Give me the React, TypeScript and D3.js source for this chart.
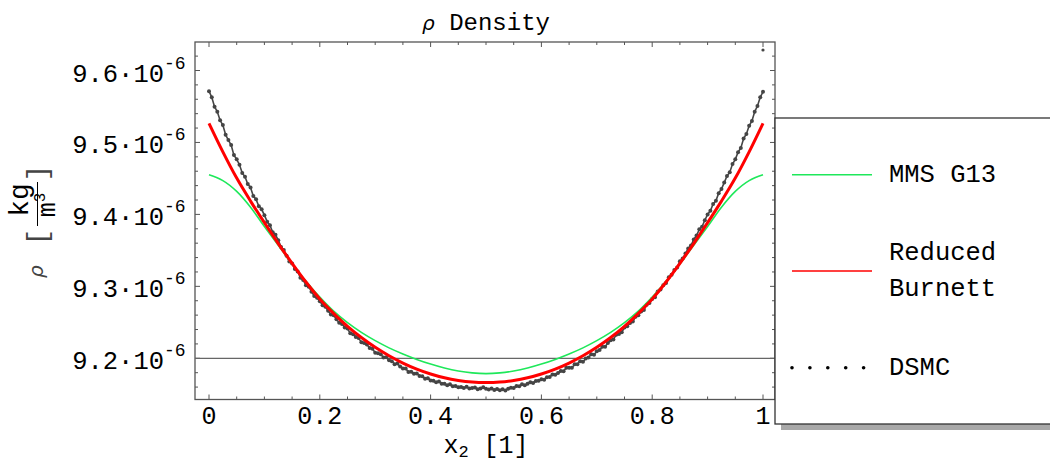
import React from 'react';
import * as d3 from 'd3';

// ---------- data ----------
const title = 'Density';
const xTickValues = [0, 0.2, 0.4, 0.6, 0.8, 1];
const xTickLabels = ['0', '0.2', '0.4', '0.6', '0.8', '1'];
const yTickValues = [9.2, 9.3, 9.4, 9.5, 9.6]; // in units of 1e-6 kg/m^3
const yTickMantissas = ['9.2', '9.3', '9.4', '9.5', '9.6'];
const yTickExponent = '-6';

const curveX = [
  0, 0.025, 0.05, 0.075, 0.1, 0.125, 0.15, 0.175, 0.2, 0.225, 0.25, 0.275, 0.3, 0.325, 0.35, 0.375, 0.4,
  0.425, 0.45, 0.475, 0.5, 0.525, 0.55, 0.575, 0.6, 0.625, 0.65, 0.675, 0.7, 0.725, 0.75, 0.775, 0.8,
  0.825, 0.85, 0.875, 0.9, 0.925, 0.95, 0.975, 1,
];
const mmsG13 = [
  9.455, 9.447, 9.432, 9.41, 9.383, 9.357, 9.331, 9.307, 9.285, 9.2655, 9.2495, 9.236, 9.2245, 9.2145,
  9.206, 9.1985, 9.192, 9.1865, 9.1823, 9.1797, 9.1787, 9.1797, 9.1823, 9.1865, 9.192, 9.1985, 9.206,
  9.2145, 9.2245, 9.236, 9.2495, 9.2655, 9.285, 9.307, 9.331, 9.357, 9.383, 9.41, 9.432, 9.447, 9.455,
];
const reducedBurnett = [
  9.5266, 9.487, 9.4505, 9.4185, 9.3885, 9.3595, 9.332, 9.306, 9.2825, 9.2625, 9.2444, 9.2289, 9.2153,
  9.2035, 9.1934, 9.185, 9.1782, 9.1729, 9.1692, 9.1669, 9.1662, 9.1669, 9.1692, 9.1729, 9.1782, 9.185,
  9.1934, 9.2035, 9.2153, 9.2289, 9.2444, 9.2625, 9.2825, 9.306, 9.332, 9.3595, 9.3885, 9.4185, 9.4505,
  9.487, 9.5266,
];
const dsmcStep = 0.005;
const dsmc = [
  9.5713, 9.5629, 9.5497, 9.5427, 9.5308, 9.5242, 9.5107, 9.5034, 9.4963, 9.4824, 9.4766, 9.469, 9.4576,
  9.4523, 9.4422, 9.4373, 9.4255, 9.4209, 9.4114, 9.4071, 9.3989, 9.3899, 9.385, 9.3752, 9.3716, 9.3642,
  9.3548, 9.3506, 9.3426, 9.3346, 9.3318, 9.3241, 9.3206, 9.3121, 9.3088, 9.3016, 9.2996, 9.2926, 9.2867,
  9.284, 9.2794, 9.2739, 9.2715, 9.2662, 9.2609, 9.2598, 9.2544, 9.2495, 9.2477, 9.2429, 9.2413, 9.2348,
  9.2334, 9.2296, 9.2283, 9.2222, 9.2211, 9.2191, 9.2142, 9.2134, 9.2077, 9.207, 9.2055, 9.201, 9.2016,
  9.1972, 9.196, 9.1918, 9.1927, 9.1887, 9.1857, 9.1858, 9.181, 9.1813, 9.1786, 9.179, 9.1755, 9.175,
  9.1716, 9.1723, 9.169, 9.1688, 9.1666, 9.1676, 9.1646, 9.1646, 9.1627, 9.1639, 9.1611, 9.1615, 9.1598,
  9.1602, 9.1587, 9.1603, 9.1579, 9.1586, 9.1593, 9.1571, 9.1579, 9.1598, 9.1578,
  9.1568, 9.1579, 9.1561, 9.1573, 9.1556, 9.1569, 9.1553, 9.1577, 9.1592, 9.1588, 9.1615, 9.1611, 9.1639,
  9.1627, 9.1646, 9.1666, 9.1656, 9.1686, 9.1688, 9.171, 9.1703, 9.1736, 9.174, 9.1775, 9.177, 9.1796,
  9.1823, 9.182, 9.1868, 9.1867, 9.1867, 9.1917, 9.1918, 9.196, 9.1952, 9.1996, 9.201, 9.2055, 9.205,
  9.2097, 9.2114, 9.2162, 9.2161, 9.2211, 9.2252, 9.2263, 9.2326, 9.2339, 9.2363, 9.2428, 9.2444, 9.2492,
  9.251, 9.2579, 9.2598, 9.2649, 9.2672, 9.2745, 9.2769, 9.2824, 9.285, 9.2927, 9.2956, 9.3016, 9.3046,
  9.3128, 9.3161, 9.3226, 9.3261, 9.3348, 9.3386, 9.3456, 9.3526, 9.3568, 9.3652, 9.3706, 9.3792, 9.383,
  9.3919, 9.3999, 9.4051, 9.4144, 9.4189, 9.4295, 9.4353, 9.4442, 9.4533, 9.4586, 9.47, 9.4766, 9.4864,
  9.4923, 9.5054, 9.5117, 9.5232, 9.5298, 9.5427, 9.5507, 9.5629, 9.5703,
];
const dsmcOutlierX = [1];
const dsmcOutlierY = [9.6285];

const legendNames = ['MMS G13', 'Reduced', 'Burnett', 'DSMC'];

const FONT = "'Liberation Mono', 'Courier New', 'DejaVu Sans Mono', monospace";
const GREEN = '#1ee85a';
const RED = '#ff0000';
const DOT = '#454545';
const FRAME = '#555555';

export default function App() {
  const W = 1050;
  const H = 464;
  const frameL = 195, frameR = 775, frameT = 42, frameB = 399.5;

  const x = d3.scaleLinear().domain([0, 1]).range([209, 763]);
  const y = d3.scaleLinear().domain([9.2, 9.6]).range([358.3, 70.5]);

  const xMinor = d3.range(0, 1.0001, 0.05);
  const yMinor = d3.range(9.16, 9.6201, 0.02);

  const lineGen = d3
    .line<number>()
    .x((_, i) => x(curveX[i]))
    .y((d) => y(d))
    .curve(d3.curveCatmullRom.alpha(0.5));

  const isMajorX = (v: number) => xTickValues.some((t) => Math.abs(t - v) < 1e-6);
  const isMajorY = (v: number) => yTickValues.some((t) => Math.abs(t - v) < 1e-6);

  const dsmcPath = d3
    .line<number>()
    .x((_, i) => x(i * dsmcStep))
    .y((d) => y(d))(dsmc);

  return (
    <svg
      width={W}
      height={H}
      style={{ position: 'absolute', left: 0, top: 0, background: '#fff' }}
      fontFamily={FONT}
    >
      <rect x={0} y={0} width={W} height={H} fill="#fff" />
      {/* title */}
      <text x={x(0.5)} y={30} fontSize={24} textAnchor="middle" fill="#000">
        <tspan fontFamily="'DejaVu Sans', sans-serif" fontStyle="italic" fontSize={20}>ρ</tspan>
        <tspan> {title}</tspan>
      </text>

      {/* frame */}
      <rect x={frameL} y={frameT} width={frameR - frameL} height={frameB - frameT} fill="none" stroke={FRAME} strokeWidth={1.3} />

      {/* x ticks bottom and top */}
      {xMinor.map((v, i) => {
        const len = isMajorX(v) ? 5 : 3;
        const px = x(v);
        return (
          <g key={'xt' + i} stroke={FRAME} strokeWidth={1}>
            <line x1={px} x2={px} y1={frameB} y2={frameB - len} />
            <line x1={px} x2={px} y1={frameT} y2={frameT + len} />
          </g>
        );
      })}
      {/* y ticks left and right */}
      {yMinor.map((v, i) => {
        const len = isMajorY(v) ? 5 : 3;
        const py = y(v);
        return (
          <g key={'yt' + i} stroke={FRAME} strokeWidth={1}>
            <line x1={frameL} x2={frameL + len} y1={py} y2={py} />
            <line x1={frameR} x2={frameR - len} y1={py} y2={py} />
          </g>
        );
      })}

      {/* x tick labels */}
      {xTickValues.map((v, i) => (
        <text key={'xl' + i} x={x(v)} y={424} fontSize={25} textAnchor="middle" fill="#000">
          {xTickLabels[i]}
        </text>
      ))}
      {/* y tick labels */}
      {yTickValues.map((v, i) => (
        <g key={'yl' + i}>
          <text x={164} y={y(v) + 11} fontSize={25.5} textAnchor="end" fill="#000">
            {yTickMantissas[i] + '·10'}
          </text>
          <text x={164} y={y(v) - 2} fontSize={18} textAnchor="start" fill="#000">
            {yTickExponent}
          </text>
        </g>
      ))}

      {/* x axis label */}
      <text x={x(0.5)} y={453} fontSize={25} textAnchor="middle" fill="#000">
        x<tspan fontSize={17} dy={4}>2</tspan>
        <tspan dy={-4}> [1]</tspan>
      </text>

      {/* y axis label (rotated) */}
      <g transform="rotate(-90)" fill="#000">
        <text x={-278} y={43} fontSize={20} fontFamily="'DejaVu Sans', sans-serif" fontStyle="italic" fill="#444">ρ</text>
        <text x={-237} y={46} fontSize={28} textAnchor="middle" fill="#444">[</text>
        <text x={-173} y={46} fontSize={28} textAnchor="middle" fill="#444">]</text>
        <text x={-200} y={28} fontSize={28} textAnchor="middle">kg</text>
        <line x1={-226} x2={-182} y1={37.5} y2={37.5} stroke="#000" strokeWidth={1} />
        <text x={-205} y={55} fontSize={25} textAnchor="middle">
          m<tspan fontSize={16} dy={-10}>3</tspan>
        </text>
      </g>

      {/* horizontal reference line at 9.2e-6 */}
      <line x1={frameL} x2={frameR} y1={y(9.2)} y2={y(9.2)} stroke="#666" strokeWidth={1.3} />

      {/* DSMC points */}
      <path d={dsmcPath || ''} fill="none" stroke={DOT} strokeWidth={1.6} />
      {dsmc.map((v, i) => (
        <circle key={'d' + i} cx={x(i * dsmcStep)} cy={y(v)} r={2} fill={DOT} />
      ))}
      {dsmcOutlierX.map((v, i) => (
        <circle key={'o' + i} cx={x(v)} cy={y(dsmcOutlierY[i])} r={1.6} fill={DOT} />
      ))}

      {/* MMS G13 */}
      <path d={lineGen(mmsG13) || ''} fill="none" stroke={GREEN} strokeWidth={1.6} />
      {/* Reduced Burnett */}
      <path d={lineGen(reducedBurnett) || ''} fill="none" stroke={RED} strokeWidth={3} />

      {/* legend */}
      <rect x={781} y={124} width={W} height={306} fill="#a8a8a8" />
      <rect x={775} y={118} width={W} height={306} fill="#fff" stroke="#333" strokeWidth={1.3} />
      <line x1={792} x2={872} y1={174.7} y2={174.7} stroke={GREEN} strokeWidth={1.5} />
      <text x={889} y={182} fontSize={25.5} fill="#000">{legendNames[0]}</text>
      <line x1={792} x2={872} y1={271} y2={271} stroke={RED} strokeWidth={1.5} />
      <text x={889} y={260} fontSize={25.5} fill="#000">{legendNames[1]}</text>
      <text x={889} y={296} fontSize={25.5} fill="#000">{legendNames[2]}</text>
      {[0, 1, 2, 3, 4].map((k) => (
        <circle key={'ld' + k} cx={792 + k * 17.9} cy={367.7} r={1.8} fill="#000" />
      ))}
      <text x={889} y={375} fontSize={25.5} fill="#000">{legendNames[3]}</text>
    </svg>
  );
}
